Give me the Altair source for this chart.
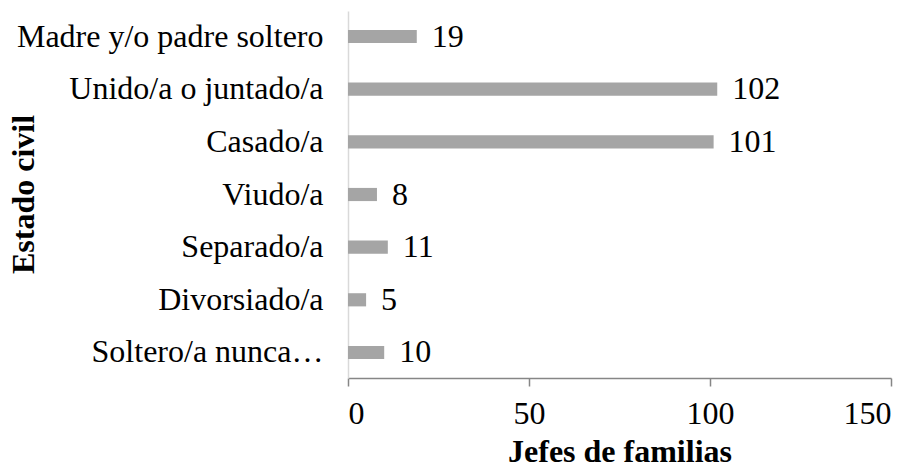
import altair as alt
import pandas as pd

categories = ["Madre y/o padre soltero", "Unido/a o juntado/a", "Casado/a", "Viudo/a",
              "Separado/a", "Divorsiado/a", "Soltero/a nunca…"]
values = [19, 102, 101, 8, 11, 5, 10]
x_ticks = [0, 50, 100, 150]

df = pd.DataFrame({"cat": categories, "val": values})

FONT = "Liberation Serif"
FS = 32

x_scale = alt.Scale(domain=[0, 150], nice=False)

y_enc = alt.Y("cat:N", sort=categories,
              scale=alt.Scale(paddingInner=0.75, paddingOuter=0.36),
              axis=alt.Axis(title="Estado civil", titleFont=FONT, titleFontSize=FS,
                            titleFontWeight="bold", titleColor="black",
                            titleAngle=-90, titleX=-315, titleY=183,
                            titleAlign="center", titleBaseline="alphabetic",
                            labelFont=FONT, labelFontSize=FS, labelColor="black",
                            labelPadding=25, labelLimit=500,
                            ticks=False, domainColor="#D9D9D9", domainWidth=1.5))

x_enc = alt.X("val:Q", scale=x_scale,
              axis=alt.Axis(title="Jefes de familias", values=x_ticks,
                            titleFont=FONT, titleFontSize=FS, titleFontWeight="bold",
                            titleColor="black", titleY=83, titleBaseline="alphabetic",
                            labelFont=FONT, labelFontSize=FS, labelColor="black",
                            labelPadding=12, tickSize=8, tickColor="#868686",
                            tickWidth=1.5, domainColor="#868686", domainWidth=1.5,
                            grid=False))

bars = alt.Chart(df).mark_bar(color="#A5A5A5").encode(x=x_enc, y=y_enc)
text = alt.Chart(df).mark_text(align="left", baseline="middle", dx=15, font=FONT,
                               fontSize=FS, color="black").encode(
    x=alt.X("val:Q", scale=x_scale), y=alt.Y("cat:N", sort=categories), text="val:Q")

chart = (bars + text).properties(
    width=543, height=367,
    autosize=alt.AutoSizeParams(type="none"),
    padding={"left": 340, "top": 3, "right": 22, "bottom": 84},
).configure(font=FONT).configure_view(stroke=None)

chart.save("out.html", embed_options={"renderer": "svg", "actions": False})
